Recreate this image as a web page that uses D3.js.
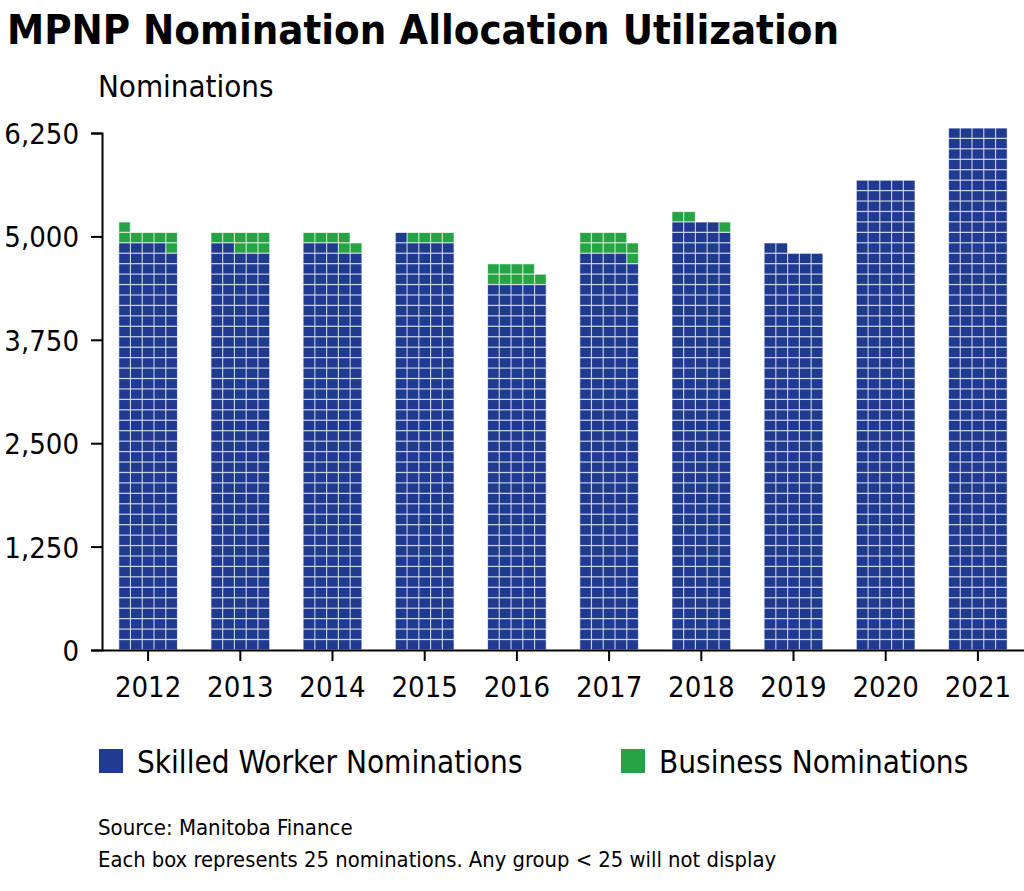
<!DOCTYPE html>
<html>
<head>
<meta charset="utf-8">
<script src="https://cdn.jsdelivr.net/npm/d3@7"></script>
<style>
  html, body { margin: 0; padding: 0; background: #fff; }
  svg { display: block; }
  text { font-family: "Liberation Sans Narrow", "DejaVu Sans Condensed", "Roboto Condensed", sans-serif; fill: #000; }
</style>
</head>
<body>
<svg id="chart" width="1024" height="891"></svg>
<script>
const years = ["2012","2013","2014","2015","2016","2017","2018","2019","2020","2021"];
const skilled = [4850, 4800, 4825, 4900, 4375, 4725, 5100, 4800, 5625, 6250];
const business = [175, 200, 150, 100, 225, 250, 75, 0, 0, 0];
const yTicks = [0, 1250, 2500, 3750, 5000, 6250];
const seriesNames = ["Skilled Worker Nominations", "Business Nominations"];
const colors = ["#1f3a8e", "#27a245"];
const perBox = 25;
const cols = 5;

const svg = d3.select("#chart");

const x = d3.scaleBand().domain(years).range([102, 1024]).padding(0);
const y = d3.scaleLinear().domain([0, 6250]).range([650, 133]);
// waffle rows (each row = cols*perBox nominations)
const yRow = d3.scaleLinear().domain([0, 50]).range([650, 128]);
const colPitch = 11.77;
const rowPitch = yRow(0) - yRow(1);
const boxW = colPitch - 1.2, boxH = rowPitch - 1.3;

// title
svg.append("text").attr("x", 7).attr("y", 44)
  .style("font-size", "41.5px").style("font-weight", "bold")
  .text("MPNP Nomination Allocation Utilization");
svg.append("text").attr("x", 98).attr("y", 97)
  .style("font-size", "31px")
  .text("Nominations");

// boxes
const boxes = [];
years.forEach((yr, i) => {
  const nS = Math.floor(skilled[i] / perBox);
  const nB = Math.floor(business[i] / perBox);
  for (let k = 0; k < nS + nB; k++) {
    boxes.push({ yr, k, s: k < nS ? 0 : 1 });
  }
});
const barW = cols * colPitch;
svg.append("g").selectAll("rect").data(boxes).join("rect")
  .attr("x", d => x(d.yr) + (x.bandwidth() - barW) / 2 + (d.k % cols) * colPitch + 0.6)
  .attr("y", d => yRow(Math.floor(d.k / cols) + 1) + 0.6)
  .attr("width", boxW).attr("height", boxH)
  .attr("fill", d => colors[d.s])
  .attr("stroke", d => colors[d.s]).attr("stroke-opacity", 0.35).attr("stroke-width", 1);

// y axis
const yAxis = d3.axisLeft(y).tickValues(yTicks).tickFormat(d3.format(",")).tickSize(11).tickPadding(12);
const gy = svg.append("g").attr("transform", "translate(102,0)").call(yAxis);
gy.selectAll("path, line").attr("stroke", "#000").attr("stroke-width", 2);
gy.selectAll("text").style("font-size", "29px").attr("fill", "#000").attr("dy", "0.36em");

// x axis
const xAxis = d3.axisBottom(x).tickSize(11).tickSizeOuter(0).tickPadding(15);
const gx = svg.append("g").attr("transform", "translate(0,650)").call(xAxis);
gx.selectAll("path, line").attr("stroke", "#000").attr("stroke-width", 2);
gx.selectAll("text").style("font-size", "29px").attr("fill", "#000");

// legend
const legX = [99, 621];
seriesNames.forEach((n, i) => {
  svg.append("rect").attr("x", legX[i]).attr("y", 749).attr("width", 24).attr("height", 24).attr("fill", colors[i]);
  svg.append("text").attr("x", legX[i] + 38).attr("y", 773).style("font-size", "31.2px").text(n);
});

// footer
svg.append("text").attr("x", 98).attr("y", 835).style("font-size", "22px").text("Source: Manitoba Finance");
svg.append("text").attr("x", 98).attr("y", 867).style("font-size", "21.8px").text("Each box represents 25 nominations. Any group < 25 will not display");
</script>
</body>
</html>
